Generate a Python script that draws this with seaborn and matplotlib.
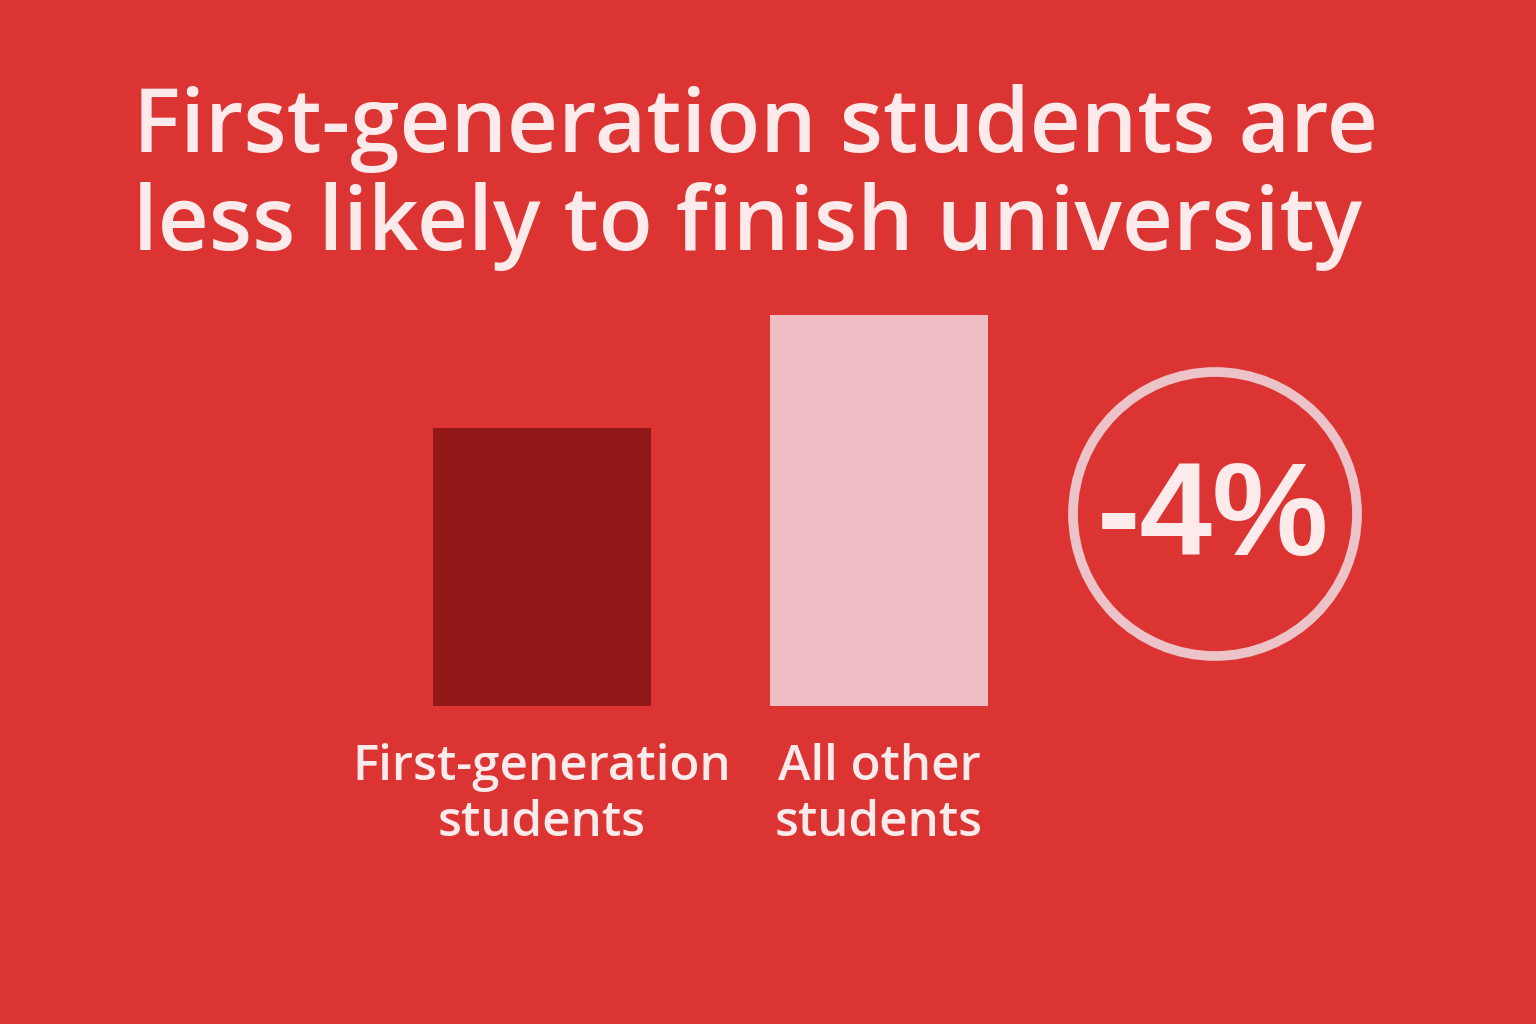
import matplotlib
matplotlib.use("Agg")
import matplotlib.pyplot as plt
from matplotlib.patches import Ellipse
import seaborn as sns
import pandas as pd

# Data (relative completion index)
categories = ["First-generation\nstudents", "All other\nstudents"]
values = [71, 100]
bar_colors = ["#901917", "#EFBEC4"]
title_lines = ["First-generation students are", "less likely to finish university"]
badge_text = "-4%"

BG = "#DB3432"
TXT = "#FDEBEC"
W, H = 1536, 1024

sns.set_theme(style="white")
plt.rcParams["font.family"] = ["Open Sans", "DejaVu Sans"]

fig = plt.figure(figsize=(W / 100, H / 100), dpi=100, facecolor=BG)

# axes so that x in (-0.5, 1.5) spans pixel 373.5..1047.5, y 0..100 spans 706..315 (from top)
ax = fig.add_axes([373.5 / W, (H - 706) / H, 674 / W, 391 / H])
ax.set_facecolor(BG)
df = pd.DataFrame({"group": categories, "value": values})
sns.barplot(data=df, x="group", y="value", hue="group", palette=bar_colors,
            width=0.648, legend=False, ax=ax, saturation=1, linewidth=0)
for p in ax.patches:
    p.set_edgecolor("none")
ax.set_xlim(-0.5, 1.5)
ax.set_ylim(0, 100)
for s in ax.spines.values():
    s.set_visible(False)
ax.set_yticks([])
ax.set_xlabel("")
ax.set_ylabel("")
ax.tick_params(axis="x", length=0, pad=27, labelsize=35.5, labelcolor=TXT)
for lab in ax.get_xticklabels():
    lab.set_linespacing(1.17)
    lab.set_fontweight(600)

# Title
fig.text(133 / W, 1 - 152 / H, title_lines[0], color=TXT, fontsize=64,
         fontweight=600, va="baseline", ha="left")
fig.text(133 / W, 1 - 250 / H, title_lines[1], color=TXT, fontsize=64,
         fontweight=600, va="baseline", ha="left")

# Badge circle
cx, cy, r = 1215, 514, 142
fig.add_artist(Ellipse((cx / W, 1 - cy / H), 2 * r / W, 2 * r / H,
                       transform=fig.transFigure, fill=False,
                       edgecolor="#ECC3C8", linewidth=7))
fig.text(1213 / W, 1 - 521 / H, badge_text, color=TXT, fontsize=94,
         fontweight="bold", family=["Liberation Sans", "DejaVu Sans"],
         ha="center", va="center")

fig.savefig("out.png", dpi=100, facecolor=BG)
